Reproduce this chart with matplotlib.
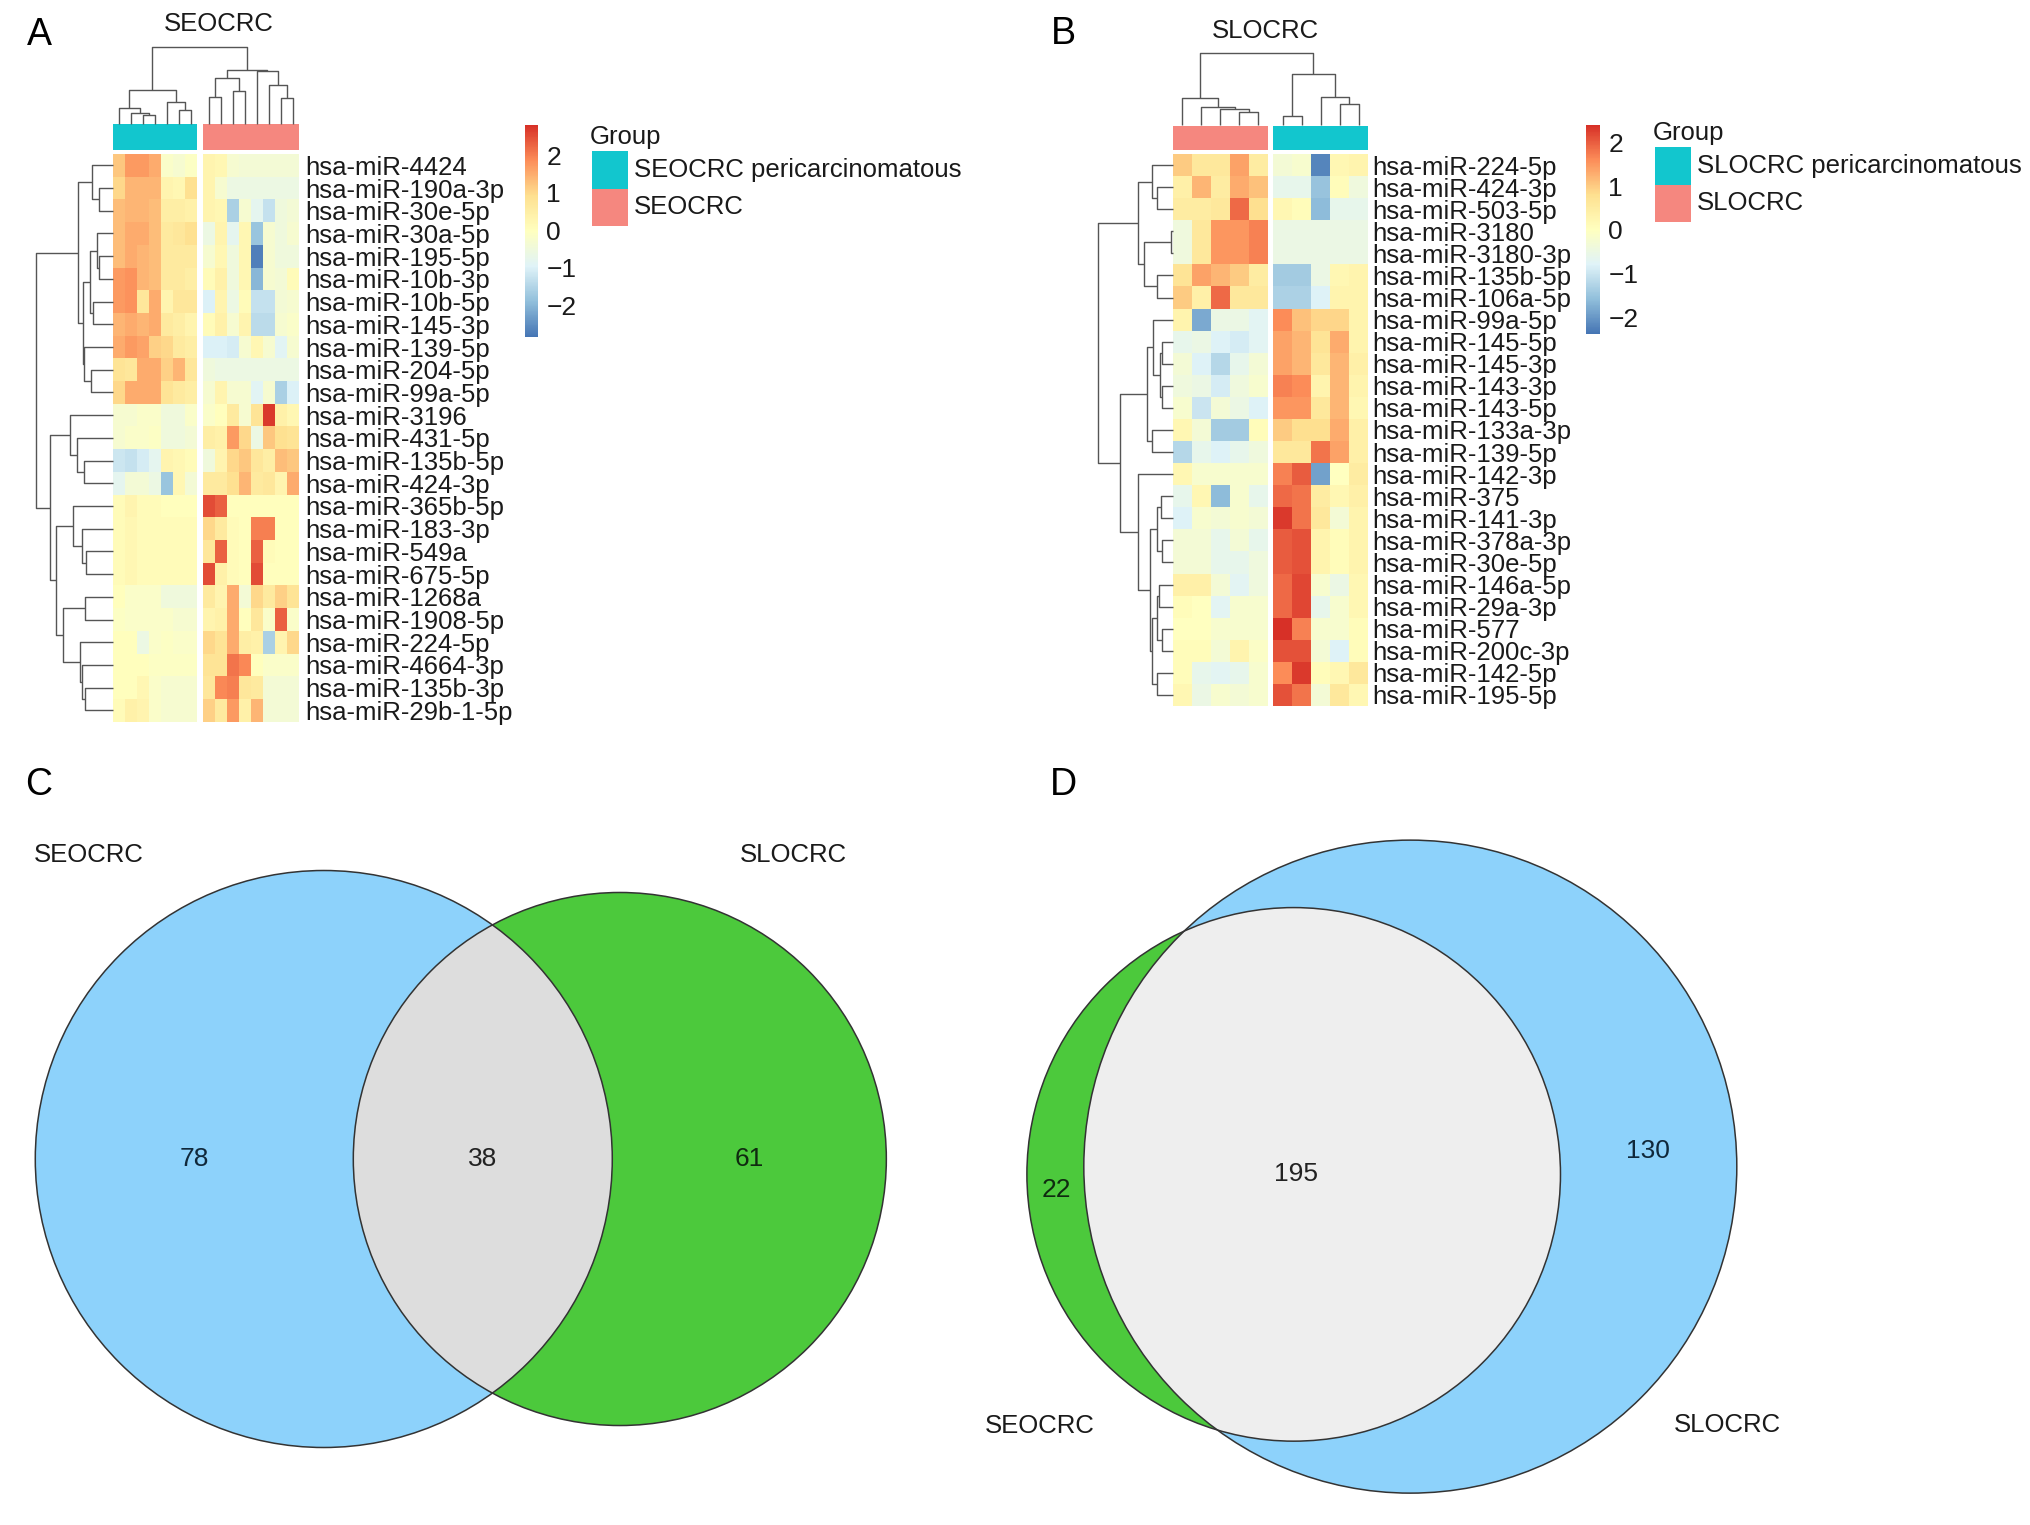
import numpy as np
import matplotlib
matplotlib.use('Agg')
import matplotlib.pyplot as plt
from matplotlib.colors import LinearSegmentedColormap, Normalize
from matplotlib.patches import Circle, Rectangle
import matplotlib.cm as cm

plt.rcParams['font.family'] = ['Liberation Sans', 'DejaVu Sans']

W, H = 2031, 1525

################################################
####                 Data                    ###
################################################

ROWS_A = ['hsa-miR-4424', 'hsa-miR-190a-3p', 'hsa-miR-30e-5p', 'hsa-miR-30a-5p',
          'hsa-miR-195-5p', 'hsa-miR-10b-3p', 'hsa-miR-10b-5p', 'hsa-miR-145-3p',
          'hsa-miR-139-5p', 'hsa-miR-204-5p', 'hsa-miR-99a-5p', 'hsa-miR-3196',
          'hsa-miR-431-5p', 'hsa-miR-135b-5p', 'hsa-miR-424-3p', 'hsa-miR-365b-5p',
          'hsa-miR-183-3p', 'hsa-miR-549a', 'hsa-miR-675-5p', 'hsa-miR-1268a',
          'hsa-miR-1908-5p', 'hsa-miR-224-5p', 'hsa-miR-4664-3p', 'hsa-miR-135b-3p',
          'hsa-miR-29b-1-5p']
GROUPS_A = ['SEOCRC pericarcinomatous'] * 7 + ['SEOCRC'] * 8
# z-scores, 7 pericarcinomatous columns then 8 tumour columns
HEAT_A = [
    [1.2, 1.7, 1.7, 1.5, -0.2, -0.3, -0.1, 0.3, 0.2, -0.3, -0.4, -0.4, -0.4, -0.4, -0.4],
    [1.0, 1.4, 1.4, 1.4, 0.3, 0.2, 0.9, 0.3, -0.3, -0.6, -0.6, -0.6, -0.6, -0.6, -0.6],
    [1.3, 1.4, 1.4, 1.3, 0.5, 0.5, 0.4, 0.3, 0.2, -1.6, -0.3, -0.8, -1.3, -0.5, -0.4],
    [1.3, 1.5, 1.5, 1.3, 0.6, 0.7, 0.9, -0.6, 0.3, -0.8, 0.2, -1.8, -0.3, -0.5, -0.3],
    [1.3, 1.5, 1.4, 1.3, 0.6, 0.6, 0.6, -0.3, 0.2, -0.5, 0.2, -2.7, -0.3, -0.5, -0.5],
    [1.7, 1.8, 1.4, 1.3, 0.6, 0.6, 0.5, 0.1, 0.4, -0.5, 0.2, -2.0, -0.3, -0.4, 0.1],
    [1.7, 1.8, 0.7, 1.5, 0.3, 0.7, 0.7, -1.0, 0.3, -0.6, 0.1, -1.3, -1.3, -0.4, -0.3],
    [1.4, 1.5, 1.4, 1.5, 0.6, 0.5, 0.3, 0.1, 0.4, -0.3, 0.3, -1.4, -1.4, -0.3, -0.2],
    [1.5, 1.7, 1.6, 1.1, 1.0, 0.6, 0.5, -1.0, -1.0, -1.1, -0.3, 0.2, -0.3, -0.9, -0.3],
    [0.8, 0.7, 1.5, 1.5, 1.1, 1.4, 0.7, -0.5, -0.6, -0.6, -0.6, -0.6, -0.6, -0.6, -0.6],
    [1.0, 1.5, 1.5, 1.5, 0.8, 0.6, 0.5, -0.3, 0.3, -0.3, -0.3, -0.9, -0.3, -1.6, -1.0],
    [-0.3, -0.3, -0.2, -0.2, -0.5, -0.5, -0.2, -0.2, 0.0, 0.6, -0.3, 0.8, 2.7, 0.4, 0.2],
    [-0.3, -0.2, -0.2, -0.1, -0.5, -0.5, -0.4, 0.5, 0.4, 1.7, 1.0, -0.6, 1.2, 0.9, 0.8],
    [-1.2, -1.3, -1.1, -0.8, 0.3, 0.2, 0.1, -0.5, 0.3, 1.0, 1.2, 0.7, 0.5, 1.3, 1.2],
    [-0.8, -0.4, -0.4, -0.6, -1.8, 0.2, -0.4, 0.6, 0.6, 0.9, 1.4, 0.6, 0.7, 0.3, 1.5],
    [0.1, 0.3, 0.1, 0.1, 0.0, 0.0, 0.0, 2.5, 2.3, 0.0, 0.0, 0.0, 0.0, 0.0, 0.0],
    [0.1, 0.2, 0.1, 0.1, 0.1, 0.1, 0.1, 1.0, 0.6, 0.1, 0.0, 2.0, 2.0, 0.0, 0.0],
    [0.1, 0.2, 0.1, 0.1, 0.1, 0.1, 0.1, 0.7, 2.3, 0.1, 0.0, 2.3, 0.1, 0.0, 0.0],
    [0.1, 0.2, 0.1, 0.1, 0.1, 0.1, 0.1, 2.5, 0.4, 0.1, 0.0, 2.5, 0.0, 0.0, 0.0],
    [0.0, -0.2, -0.2, -0.2, -0.5, -0.5, -0.5, 0.6, 0.3, 1.5, -0.4, 1.0, 0.6, 1.1, 0.8],
    [-0.1, -0.2, -0.2, -0.2, -0.2, -0.3, -0.3, 0.3, 0.4, 1.5, 0.0, 0.7, -0.2, 2.3, -0.2],
    [0.0, 0.0, -0.6, -0.2, -0.1, -0.2, -0.2, 1.0, 0.8, 1.5, 0.5, 0.4, -1.6, 0.3, 1.0],
    [0.0, 0.0, 0.0, -0.1, -0.1, -0.1, -0.1, 0.8, 0.8, 2.1, 1.9, 0.0, -0.2, -0.2, -0.2],
    [0.0, 0.0, 0.2, -0.2, -0.3, -0.3, -0.3, 0.7, 1.9, 2.0, 0.7, 0.6, -0.4, -0.4, -0.4],
    [0.1, 0.4, 0.3, -0.2, -0.3, -0.3, -0.3, 1.1, 0.6, 1.7, 0.4, 1.4, -0.4, -0.4, -0.4],
]
# dendrograms as nested (left, right, height); leaves are row / column indices
ROW_TREE_A = (
    ((0, (1, 2, 0.18), 0.27),
     (((3, (4, 5, 0.18), 0.21), (6, 7, 0.26), 0.30), (8, (9, 10, 0.28), 0.38), 0.39),
     0.45),
    ((11, (12, (13, 14, 0.38), 0.47), 0.56),
     ((15, (16, (17, 18, 0.35), 0.40), 0.52),
      ((19, 20, 0.36), (21, (22, (23, 24, 0.36), 0.40), 0.43), 0.65), 0.74),
     0.82),
    1.0)
COL_TREE_A = (
    ((0, (1, (2, 3, 0.11), 0.14), 0.20), (4, (5, 6, 0.175), 0.285), 0.44),
    (((7, 8, 0.35), (9, 10, 0.42), 0.59), (11, (12, (13, 14, 0.33), 0.50), 0.68), 0.70),
    1.0)

ROWS_B = ['hsa-miR-224-5p', 'hsa-miR-424-3p', 'hsa-miR-503-5p', 'hsa-miR-3180',
          'hsa-miR-3180-3p', 'hsa-miR-135b-5p', 'hsa-miR-106a-5p', 'hsa-miR-99a-5p',
          'hsa-miR-145-5p', 'hsa-miR-145-3p', 'hsa-miR-143-3p', 'hsa-miR-143-5p',
          'hsa-miR-133a-3p', 'hsa-miR-139-5p', 'hsa-miR-142-3p', 'hsa-miR-375',
          'hsa-miR-141-3p', 'hsa-miR-378a-3p', 'hsa-miR-30e-5p', 'hsa-miR-146a-5p',
          'hsa-miR-29a-3p', 'hsa-miR-577', 'hsa-miR-200c-3p', 'hsa-miR-142-5p',
          'hsa-miR-195-5p']
GROUPS_B = ['SLOCRC'] * 5 + ['SLOCRC pericarcinomatous'] * 5
# z-scores, 5 tumour columns then 5 pericarcinomatous columns
HEAT_B = [
    [1.0, 0.6, 0.6, 1.4, 0.5, -0.3, -0.2, -2.2, 0.2, 0.3],
    [0.4, 1.2, 0.5, 1.3, 1.1, -0.6, -0.6, -1.5, 0.1, -0.4],
    [0.5, 0.5, 0.6, 1.9, 0.8, 0.2, 0.1, -1.6, -0.6, -0.6],
    [-0.4, 0.6, 1.5, 1.5, 1.7, -0.5, -0.5, -0.5, -0.5, -0.5],
    [-0.4, 0.6, 1.5, 1.5, 1.7, -0.5, -0.5, -0.5, -0.5, -0.5],
    [0.7, 1.4, 1.2, 1.0, 0.5, -1.4, -1.4, -0.5, 0.2, 0.3],
    [1.0, 0.4, 1.9, 0.6, 0.6, -1.3, -1.3, -0.8, 0.3, 0.3],
    [0.3, -1.8, -0.5, -0.5, -0.7, 1.6, 1.1, 0.9, 0.9, 0.3],
    [-0.6, -0.5, -0.8, -0.9, -0.7, 1.4, 1.2, 0.7, 1.3, 0.3],
    [-0.3, -0.8, -1.2, -0.6, -0.3, 1.4, 1.2, 0.6, 1.2, 0.4],
    [-0.4, -0.5, -0.9, -0.4, -0.2, 1.7, 1.6, 0.3, 1.2, 0.3],
    [-0.2, -1.0, -0.3, -0.5, -0.8, 1.5, 1.5, 0.6, 1.2, 0.2],
    [0.2, -0.3, -1.4, -1.4, 0.1, 1.0, 0.8, 0.8, 1.3, 0.4],
    [-1.2, -0.6, -0.8, -0.6, -0.4, 0.6, 0.6, 1.8, 1.4, 0.4],
    [0.2, -0.2, -0.2, -0.2, -0.2, 1.7, 2.0, -1.9, 0.0, 0.5],
    [-0.6, 0.2, -1.6, -0.2, -0.6, 1.9, 1.8, 0.5, 0.2, 0.4],
    [-0.8, -0.2, -0.3, -0.2, -0.3, 2.3, 1.8, 0.6, -0.3, 0.3],
    [-0.3, -0.3, -0.6, -0.3, -0.6, 2.0, 2.1, 0.3, 0.1, 0.3],
    [-0.3, -0.3, -0.6, -0.6, -0.4, 2.0, 2.1, 0.3, 0.1, 0.3],
    [0.4, 0.4, -0.3, -0.7, -0.4, 1.9, 2.2, -0.2, -0.5, 0.2],
    [0.1, 0.0, -0.7, -0.2, -0.2, 1.9, 2.2, -0.6, -0.2, 0.2],
    [0.0, 0.0, -0.2, -0.2, -0.2, 2.4, 1.7, -0.2, -0.2, 0.1],
    [0.1, 0.1, -0.3, 0.3, -0.1, 2.1, 2.1, -0.3, -0.8, 0.1],
    [0.1, -0.6, -0.7, -0.6, -0.2, 1.6, 2.3, 0.1, 0.2, 0.6],
    [0.2, -0.5, -0.2, -0.3, -0.2, 2.1, 1.8, -0.3, 0.6, 0.2],
]
ROW_TREE_B = (
    ((0, (1, 2, 0.21), 0.28), ((3, 4, 0.02), (5, 6, 0.21), 0.39), 0.46),
    (((7, ((8, 9, 0.14), (10, 11, 0.14), 0.17), 0.26), (12, 13, 0.28), 0.35),
     (14, (((15, 16, 0.16), (17, 18, 0.14), 0.21),
           (((19, 20, 0.18), (21, 22, 0.14), 0.21), (23, 24, 0.21), 0.28), 0.31), 0.46),
     0.70),
    1.0)
COL_TREE_B = (
    (0, (1, (2, (3, 4, 0.18), 0.22), 0.25), 0.37),
    ((5, 6, 0.12), (7, (8, 9, 0.29), 0.39), 0.71),
    1.0)

# Venn counts: [first only, both, second only]
VENN_C_SETS = ['SEOCRC', 'SLOCRC']
VENN_C_COUNTS = [78, 38, 61]
VENN_D_SETS = ['SEOCRC', 'SLOCRC']
VENN_D_COUNTS = [22, 195, 130]

################################################
####                 Style                   ###
################################################

CMAP = LinearSegmentedColormap.from_list(
    'rdylbu_r', ['#4575B4', '#91BFDB', '#E0F3F8', '#FFFFBF', '#FEE090', '#FC8D59', '#D73027'])
GROUP_COLORS = {'SEOCRC pericarcinomatous': '#12C6CE', 'SEOCRC': '#F5877F',
                'SLOCRC pericarcinomatous': '#12C6CE', 'SLOCRC': '#F5877F'}
DENDRO_COLOR = '#555555'
TXT = '#1a1a1a'
FS = 18.5

fig = plt.figure(figsize=(W / 100, H / 100), dpi=100)


def px_axes(x0, y0, x1, y1):
    return fig.add_axes([x0 / W, 1 - y1 / H, (x1 - x0) / W, (y1 - y0) / H])


ov = px_axes(0, 0, W, H)
ov.set_xlim(0, W)
ov.set_ylim(H, 0)
ov.axis('off')


def draw_tree(ax, node, pos, top):
    if isinstance(node, int):
        return pos[node], 0.0
    a, b, h = node
    pa, ha = draw_tree(ax, a, pos, top)
    pb, hb = draw_tree(ax, b, pos, top)
    p, q = [pa, pa, pb, pb], [ha, h, h, hb]
    if not top:
        p, q = q, p
    ax.plot(p, q, color=DENDRO_COLOR, lw=1.0, clip_on=False, solid_capstyle='butt')
    return (pa + pb) / 2, h


def heatmap_panel(data, rows, groups, row_tree, col_tree, vlim, gap,
                  hx, hy, row_dx, col_dy, bar_y, cbar, label_pad):
    data = np.array(data)
    nrow, ncol = data.shape
    n_left = groups.count(groups[0])
    cpos = np.arange(ncol) + 0.5 + np.where(np.arange(ncol) >= n_left, gap, 0)
    xmax = ncol + gap
    norm = Normalize(vmin=vlim[0], vmax=vlim[1])

    ax = px_axes(hx[0], hy[0], hx[1], hy[1])
    ax.pcolormesh(np.arange(n_left + 1), np.arange(nrow + 1), data[:, :n_left],
                  cmap=CMAP, norm=norm, antialiased=False)
    ax.pcolormesh(n_left + gap + np.arange(ncol - n_left + 1), np.arange(nrow + 1),
                  data[:, n_left:], cmap=CMAP, norm=norm, antialiased=False)
    ax.set_xlim(0, xmax)
    ax.set_ylim(nrow, 0)
    for s in ax.spines.values():
        s.set_visible(False)
    ax.set_xticks([])
    ax.yaxis.tick_right()
    ax.set_yticks(np.arange(nrow) + 0.5)
    ax.set_yticklabels(rows, fontsize=FS, color=TXT)
    ax.tick_params(axis='y', length=0, pad=label_pad)

    ab = px_axes(hx[0], bar_y[0], hx[1], bar_y[1])
    ab.bar(cpos, 1, width=1.02, color=[GROUP_COLORS[g] for g in groups], linewidth=0)
    ab.set_xlim(0, xmax)
    ab.set_ylim(0, 1)
    ab.axis('off')

    cd = px_axes(hx[0], col_dy[0], hx[1], col_dy[1])
    draw_tree(cd, col_tree, cpos, True)
    cd.set_xlim(0, xmax)
    cd.set_ylim(0, 1)
    cd.axis('off')

    rd = px_axes(row_dx[0], hy[0], row_dx[1], hy[1])
    draw_tree(rd, row_tree, np.arange(nrow) + 0.5, False)
    rd.set_xlim(1, 0)
    rd.set_ylim(nrow, 0)
    rd.axis('off')

    cax = px_axes(*cbar)
    cb = fig.colorbar(cm.ScalarMappable(norm=norm, cmap=CMAP), cax=cax, ticks=[-2, -1, 0, 1, 2])
    cb.outline.set_visible(False)
    cax.tick_params(length=0, pad=6, labelsize=FS + 0.5, labelcolor=TXT)


def group_legend(x, y, names):
    ov.text(x - 2, y, 'Group', fontsize=FS, color=TXT, ha='left', va='center')
    for i, name in enumerate(names):
        y0 = y + 14 + 37.5 * i
        ov.add_patch(Rectangle((x, y0), 36, 37.5, fc=GROUP_COLORS[name], ec='none'))
        ov.text(x + 42, y0 + 19, name, fontsize=FS, color=TXT, ha='left', va='center')


################################################
####            Heatmaps A and B             ###
################################################

heatmap_panel(HEAT_A, ROWS_A, GROUPS_A, ROW_TREE_A, COL_TREE_A, (-2.85, 2.8), 0.5,
              hx=(112.7, 298.7), hy=(154, 721.7), row_dx=(36, 112.7), col_dy=(47, 123.5),
              bar_y=(124.3, 150), cbar=(525, 125, 538, 337), label_pad=4.5)
ov.text(219, 24, 'SEOCRC', fontsize=FS, color=TXT, ha='center', va='center')
group_legend(592, 137, ['SEOCRC pericarcinomatous', 'SEOCRC'])

heatmap_panel(HEAT_B, ROWS_B, GROUPS_B, ROW_TREE_B, COL_TREE_B, (-2.37, 2.39), 0.26,
              hx=(1172.7, 1368.3), hy=(154, 706), row_dx=(1098, 1172.7), col_dy=(52.7, 125),
              bar_y=(125.5, 150), cbar=(1586.5, 125, 1600, 334), label_pad=3.2)
ov.text(1265, 31, 'SLOCRC', fontsize=FS, color=TXT, ha='center', va='center')
group_legend(1655, 133, ['SLOCRC pericarcinomatous', 'SLOCRC'])

################################################
####              Venn C and D               ###
################################################


def lens_area(r1, r2, d):
    if d >= r1 + r2:
        return 0.0
    if d <= abs(r1 - r2):
        return np.pi * min(r1, r2) ** 2
    a1 = r1 ** 2 * np.arccos((d * d + r1 * r1 - r2 * r2) / (2 * d * r1))
    a2 = r2 ** 2 * np.arccos((d * d + r2 * r2 - r1 * r1) / (2 * d * r2))
    a3 = 0.5 * np.sqrt((-d + r1 + r2) * (d + r1 - r2) * (d - r1 + r2) * (d + r1 + r2))
    return a1 + a2 - a3


def venn2(counts, colors, inter_color, mid, r_big, angle, num_colors, inter_shift=0.0):
    n1 = counts[0] + counts[1]
    n2 = counts[2] + counts[1]
    k = np.pi * r_big ** 2 / max(n1, n2)
    r1, r2 = np.sqrt(k * n1 / np.pi), np.sqrt(k * n2 / np.pi)
    lo, hi = abs(r1 - r2), r1 + r2
    for _ in range(60):
        d = (lo + hi) / 2
        if lens_area(r1, r2, d) > k * counts[1]:
            lo = d
        else:
            hi = d
    u = np.array([np.cos(np.radians(angle)), np.sin(np.radians(angle))])
    c1 = np.array(mid) - u * d / 2
    c2 = np.array(mid) + u * d / 2
    ov.add_patch(Circle(c1, r1, fc=colors[0], ec='none'))
    ov.add_patch(Circle(c2, r2, fc=colors[1], ec='none'))
    inter = Circle(c2, r2, fc=inter_color, ec='none')
    ov.add_patch(inter)
    inter.set_clip_path(Circle(c1, r1, transform=ov.transData))
    for c, r in [(c1, r1), (c2, r2)]:
        ov.add_patch(Circle(c, r, fill=False, ec='#333333', lw=1.1))
    # label positions along the centre line
    e = [-d / 2 - r1, d / 2 - r2, -d / 2 + r1, d / 2 + r2]
    spots = [(e[0] + e[1]) / 2, (e[1] + e[2]) / 2 + inter_shift, (e[2] + e[3]) / 2]
    for n, s, col in zip(counts, spots, num_colors):
        p = np.array(mid) + u * s
        ov.text(p[0], p[1], str(n), fontsize=FS + 0.5, color=col, ha='center', va='center')


venn2(VENN_C_COUNTS, ['#8DD2FB', '#4CC93C'], '#DDDDDD', (471.8, 1159), 288.5, 0.0,
      ['#10283a', '#222222', '#0f2a10'])
ov.text(89, 855, VENN_C_SETS[0], fontsize=FS, color=TXT, ha='center', va='center')
ov.text(793, 855, VENN_C_SETS[1], fontsize=FS, color=TXT, ha='center', va='center')

venn2(VENN_D_COUNTS, ['#4CC93C', '#8DD2FB'], '#EEEEEE', (1352, 1170.5), 326.5, -3.8,
      ['#0f2a10', '#222222', '#10283a'], inter_shift=-26)
ov.text(1040, 1426, VENN_D_SETS[0], fontsize=FS, color=TXT, ha='center', va='center')
ov.text(1727, 1425, VENN_D_SETS[1], fontsize=FS, color=TXT, ha='center', va='center')

################################################
####              Panel letters              ###
################################################

for letter, x, y in [('A', 39, 35), ('B', 1063, 34), ('C', 39, 785), ('D', 1063, 785)]:
    ov.text(x, y, letter, fontsize=27, color='black', ha='center', va='center')

fig.savefig('out.png', dpi=100)
